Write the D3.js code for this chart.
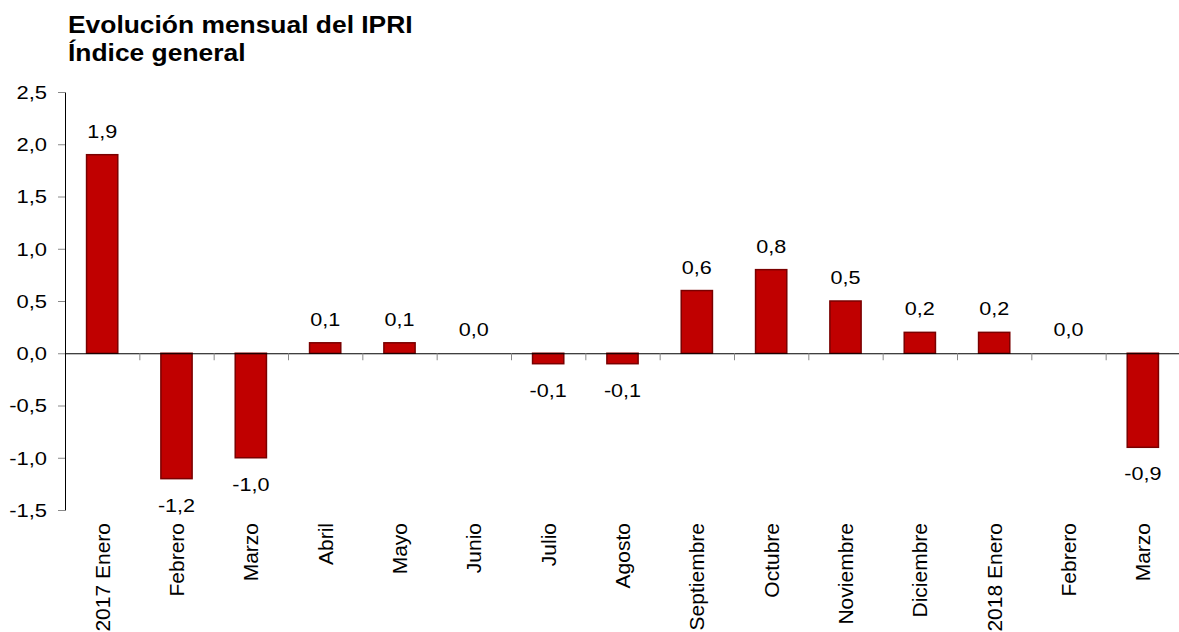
<!DOCTYPE html>
<html>
<head>
<meta charset="utf-8">
<script src="https://cdn.jsdelivr.net/npm/d3@7"></script>
<style>
  body { margin: 0; background: #fff; }
  svg { display: block; font-family: "Liberation Sans", Arial, sans-serif; }
</style>
</head>
<body>
<div id="chart"></div>
<script>
var categories = ["2017 Enero", "Febrero", "Marzo", "Abril", "Mayo", "Junio", "Julio",
  "Agosto", "Septiembre", "Octubre", "Noviembre", "Diciembre", "2018 Enero", "Febrero", "Marzo"];
var values = [1.9, -1.2, -1.0, 0.1, 0.1, 0.0, -0.1, -0.1, 0.6, 0.8, 0.5, 0.2, 0.2, 0.0, -0.9];
var yTicks = [-1.5, -1.0, -0.5, 0.0, 0.5, 1.0, 1.5, 2.0, 2.5];
var titleLines = ["Evolución mensual del IPRI", "Índice general"];

var width = 1179, height = 632;
var plot = { left: 65, right: 1180, top: 92, bottom: 510 };

var locale = d3.formatLocale({ decimal: ",", thousands: ".", grouping: [3], currency: ["", "€"], minus: "-" });
var fmt = locale.format(".1f");

var svg = d3.select("#chart").append("svg")
  .attr("width", width)
  .attr("height", height);

// title (source text is a bit stretched horizontally)
svg.append("g")
  .attr("transform", "translate(68,33) scale(1.1,1)")
  .selectAll("text")
  .data(titleLines)
  .join("text")
  .attr("y", function (d, i) { return i * 28; })
  .attr("font-size", 24)
  .attr("font-weight", "bold")
  .attr("fill", "#000")
  .text(function (d) { return d; });

var idx = d3.range(categories.length);

var x = d3.scaleBand()
  .domain(idx)
  .range([plot.left, plot.right])
  .paddingInner(0.58)
  .paddingOuter(0.29);

var xEdge = d3.scaleLinear()
  .domain([0, categories.length])
  .range([plot.left, plot.right]);

var y = d3.scaleLinear()
  .domain([-1.5, 2.5])
  .range([plot.bottom, plot.top]);

// bars
svg.append("g")
  .selectAll("rect")
  .data(values)
  .join("rect")
  .attr("x", function (d, i) { return x(i); })
  .attr("width", x.bandwidth())
  .attr("y", function (d) { return y(Math.max(0, d)); })
  .attr("height", function (d) { return Math.abs(y(d) - y(0)); })
  .attr("fill", "#c00000")
  .attr("stroke", function (d) { return d === 0 ? "none" : "#7a0000"; })
  .attr("stroke-width", 1.5);

// y axis
var yAxis = svg.append("g")
  .attr("transform", "translate(" + plot.left + ",0)")
  .call(d3.axisLeft(y).tickValues(yTicks).tickSize(7).tickSizeOuter(0).tickFormat(fmt));
yAxis.select(".domain").attr("stroke", "#000");
yAxis.selectAll(".tick line").attr("stroke", "#888");
yAxis.selectAll(".tick text")
  .attr("x", null)
  .attr("dy", "0.36em")
  .attr("transform", "translate(-18,0) scale(1.22,1)")
  .attr("font-size", 18)
  .attr("font-family", null)
  .attr("fill", "#000");

// zero line with ticks between categories
var zAxis = svg.append("g")
  .attr("transform", "translate(0," + y(0) + ")")
  .call(d3.axisBottom(xEdge).tickValues(d3.range(1, categories.length)).tickSize(7).tickSizeOuter(0).tickFormat(""));
zAxis.select(".domain").attr("stroke", "#000");
zAxis.selectAll(".tick line").attr("stroke", "#888");

// category labels
var xAxis = svg.append("g")
  .attr("transform", "translate(0," + plot.bottom + ")")
  .call(d3.axisBottom(x).tickSize(0).tickFormat(function (i) { return categories[i]; }));
xAxis.select(".domain").remove();
xAxis.selectAll(".tick text")
  .attr("transform", "rotate(-90)")
  .attr("text-anchor", "end")
  .attr("x", -13)
  .attr("y", 0)
  .attr("dy", "0.36em")
  .attr("font-size", 21)
  .attr("font-family", null)
  .attr("fill", "#000");

// value labels
svg.append("g")
  .selectAll("text")
  .data(values)
  .join("text")
  .attr("transform", function (d, i) {
    var ty = d < 0 ? y(d) + 33 : y(d) - 17;
    return "translate(" + (x(i) + x.bandwidth() / 2) + "," + ty + ") scale(1.2,1)";
  })
  .attr("text-anchor", "middle")
  .attr("font-size", 18)
  .attr("fill", "#000")
  .text(function (d) { return fmt(d); });
</script>
</body>
</html>
